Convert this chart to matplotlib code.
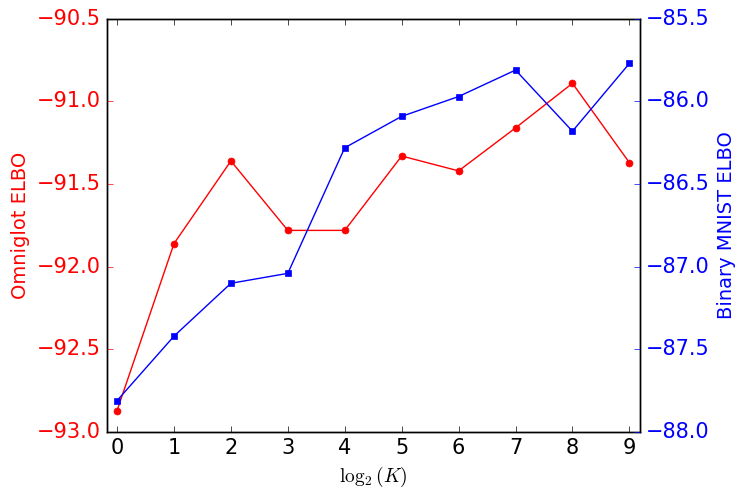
import matplotlib
matplotlib.use("Agg")
import matplotlib.pyplot as plt
import numpy as np

log2_k = [0, 1, 2, 3, 4, 5, 6, 7, 8, 9]
omniglot_elbo = [-92.87, -91.86, -91.36, -91.78, -91.78, -91.33, -91.42, -91.16, -90.89, -91.37]
mnist_elbo = [-87.81, -87.42, -87.10, -87.04, -86.28, -86.09, -85.97, -85.81, -86.18, -85.77]

plt.style.use("classic")
fig = plt.figure(figsize=(7.47, 4.96), dpi=100)
ax1 = fig.add_axes([0.143, 0.129, 0.714, 0.833])
ax1.plot(log2_k, omniglot_elbo, "o-", color="red", markersize=5, markeredgecolor="red")
ax1.set_xlim(-0.18, 9.19)
ax1.set_ylim(-93.0, -90.5)
ax1.set_yticks(np.arange(-93.0, -90.4, 0.5))
ax1.set_ylabel("Omniglot ELBO", color="red", fontsize=14)
ax1.set_xlabel(r"$\log_2(K)$", fontsize=14)
ax1.tick_params(axis="y", colors="red", labelsize=15)
ax1.tick_params(axis="x", labelsize=15)
ax1.set_xticks(log2_k)

ax2 = ax1.twinx()
ax2.plot(log2_k, mnist_elbo, "s-", color="blue", markersize=5, markeredgecolor="blue")
ax2.set_ylim(-88.0, -85.5)
ax2.set_yticks(np.arange(-88.0, -85.4, 0.5))
ax2.set_ylabel("Binary MNIST ELBO", color="blue", fontsize=14)
ax2.tick_params(axis="y", colors="blue", labelsize=15)
ax2.set_xlim(-0.18, 9.19)

fig.savefig("out.png", dpi=100)
